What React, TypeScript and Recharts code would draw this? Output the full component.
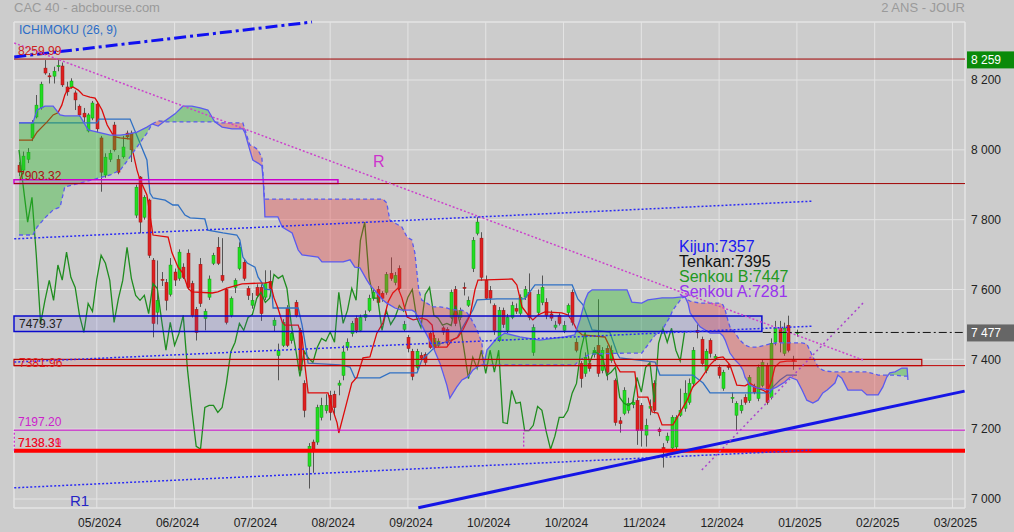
import React from 'react';
import {
  ComposedChart, Bar, Line, Area, XAxis, YAxis, CartesianGrid, ReferenceLine, ReferenceArea,
} from 'recharts';

// one grid line every 18 sessions, labelled like the original (note the doubled 10/2024)
const tickIdx = [18, 36, 54, 72, 90, 108, 126, 144, 162, 180, 198, 216];
const tickLabels = ['05/2024', '06/2024', '07/2024', '08/2024', '09/2024', '10/2024', '10/2024', '11/2024', '12/2024', '01/2025', '02/2025', '03/2025'];
const priceTicks = [7000, 7200, 7400, 7600, 7800, 8000, 8200];

// daily candles: open, high, low, close
const ohlc: number[][] = [
  [7956, 7965, 7925, 7936], [7942, 7995, 7930, 7982], [7973, 8005, 7962, 7993], [8034, 8085, 8025, 8077],
  [8094, 8157, 8090, 8128], [8120, 8195, 8115, 8188], [8234, 8257, 8215, 8220], [8212, 8220, 8190, 8209],
  [8211, 8238, 8190, 8225], [8238, 8257, 8225, 8241], [8240, 8250, 8180, 8186], [8180, 8195, 8155, 8166],
  [8180, 8205, 8175, 8197], [8163, 8170, 8114, 8143], [8125, 8130, 8095, 8100], [8105, 8120, 8080, 8094],
  [8054, 8105, 8050, 8100], [8091, 8140, 8085, 8134],
  // 05/2024
  [8131, 8140, 8050, 8060], [8034, 8040, 7880, 7936], [7928, 7990, 7920, 7979], [7973, 8000, 7965, 7990],
  [8071, 8080, 7995, 8000], [7973, 7985, 7930, 7936], [7980, 8040, 7975, 8008], [8048, 8055, 8030, 8037],
  [8048, 8055, 7965, 8000], [7813, 7900, 7805, 7893], [7922, 7925, 7761, 7793], [7807, 7870, 7800, 7864],
  [7856, 7860, 7690, 7698], [7684, 7690, 7463, 7503], [7535, 7683, 7500, 7569], [7629, 7650, 7610, 7626],
  [7620, 7630, 7540, 7569], [7586, 7690, 7580, 7670],
  // 06/2024
  [7650, 7660, 7610, 7627], [7632, 7715, 7625, 7707], [7664, 7675, 7630, 7635], [7704, 7715, 7600, 7606],
  [7617, 7625, 7520, 7526], [7543, 7550, 7454, 7477], [7672, 7690, 7550, 7560], [7517, 7545, 7483, 7537],
  [7578, 7640, 7570, 7630], [7675, 7705, 7670, 7698], [7721, 7750, 7670, 7675], [7640, 7747, 7620, 7626],
  [7600, 7605, 7500, 7506], [7526, 7580, 7520, 7574], [7606, 7632, 7590, 7626], [7660, 7735, 7655, 7721],
  [7678, 7685, 7625, 7632], [7603, 7610, 7570, 7583],
  // 07/2024
  [7555, 7590, 7545, 7569], [7606, 7615, 7575, 7583], [7606, 7615, 7510, 7531], [7578, 7655, 7570, 7617],
  [7623, 7655, 7580, 7603], [7497, 7520, 7480, 7512], [7411, 7445, 7340, 7426], [7440, 7515, 7435, 7506],
  [7546, 7555, 7435, 7440], [7454, 7480, 7445, 7474], [7563, 7570, 7520, 7526], [7483, 7490, 7360, 7369],
  [7331, 7340, 7234, 7254], [7094, 7160, 7030, 7151], [7163, 7170, 7075, 7143], [7163, 7270, 7155, 7262],
  [7234, 7290, 7225, 7268], [7253, 7300, 7245, 7268],
  // 08/2024
  [7297, 7310, 7225, 7248], [7300, 7310, 7240, 7262], [7326, 7340, 7297, 7332], [7354, 7440, 7340, 7421],
  [7434, 7460, 7425, 7449], [7474, 7510, 7465, 7503], [7517, 7525, 7475, 7483], [7483, 7528, 7478, 7520],
  [7520, 7540, 7510, 7528], [7540, 7585, 7535, 7575], [7575, 7600, 7568, 7592], [7600, 7610, 7555, 7563],
  [7589, 7595, 7565, 7575], [7592, 7650, 7585, 7643], [7646, 7692, 7625, 7632], [7620, 7650, 7612, 7640],
  [7660, 7669, 7598, 7603], [7486, 7510, 7480, 7500],
  // 09/2024
  [7463, 7470, 7420, 7431], [7423, 7430, 7340, 7351], [7377, 7430, 7370, 7423], [7411, 7420, 7395, 7403],
  [7414, 7420, 7383, 7391], [7474, 7480, 7430, 7434], [7434, 7470, 7428, 7460], [7440, 7460, 7435, 7452],
  [7490, 7495, 7470, 7478], [7486, 7492, 7440, 7449], [7520, 7600, 7515, 7592], [7600, 7610, 7495, 7503],
  [7520, 7548, 7512, 7540], [7606, 7620, 7583, 7603], [7555, 7580, 7550, 7569], [7660, 7750, 7650, 7741],
  [7761, 7807, 7755, 7793], [7747, 7764, 7625, 7635],
  // 10/2024
  [7626, 7640, 7570, 7575], [7597, 7610, 7560, 7575], [7554, 7560, 7470, 7483], [7454, 7550, 7450, 7540],
  [7540, 7548, 7490, 7500], [7483, 7530, 7475, 7520], [7520, 7565, 7515, 7554], [7545, 7560, 7530, 7538],
  [7532, 7586, 7525, 7578], [7578, 7610, 7570, 7600], [7592, 7646, 7512, 7520], [7420, 7500, 7410, 7491],
  [7534, 7600, 7525, 7586], [7563, 7640, 7555, 7606], [7563, 7575, 7515, 7526], [7530, 7540, 7510, 7518],
  [7492, 7510, 7485, 7498], [7526, 7532, 7497, 7503],
  // 10/2024 (second)
  [7483, 7510, 7475, 7497], [7534, 7560, 7525, 7554], [7592, 7600, 7497, 7506], [7449, 7460, 7420, 7426],
  [7388, 7395, 7319, 7345], [7360, 7420, 7350, 7406], [7388, 7395, 7365, 7374], [7414, 7435, 7405, 7426],
  [7440, 7572, 7350, 7360], [7368, 7435, 7360, 7426], [7431, 7440, 7340, 7363], [7397, 7440, 7390, 7426],
  [7339, 7345, 7210, 7219], [7224, 7235, 7190, 7216], [7245, 7320, 7240, 7311], [7254, 7290, 7245, 7274],
  [7270, 7290, 7260, 7277], [7282, 7290, 7155, 7196],
  // 11/2024
  [7268, 7275, 7150, 7196], [7183, 7230, 7150, 7211], [7260, 7285, 7240, 7265], [7331, 7340, 7245, 7254],
  [7200, 7205, 7180, 7193], [7147, 7160, 7090, 7142], [7168, 7190, 7160, 7180], [7146, 7240, 7140, 7234],
  [7149, 7240, 7140, 7234], [7240, 7316, 7235, 7254], [7260, 7340, 7250, 7303], [7277, 7345, 7270, 7331],
  [7331, 7435, 7320, 7426], [7483, 7500, 7460, 7477], [7457, 7465, 7380, 7388], [7368, 7430, 7360, 7423],
  [7454, 7460, 7405, 7417], [7403, 7415, 7395, 7408],
  // 12/2024
  [7377, 7385, 7345, 7354], [7317, 7370, 7310, 7363], [7383, 7390, 7370, 7377], [7288, 7305, 7275, 7291],
  [7240, 7280, 7196, 7274], [7253, 7285, 7245, 7268], [7291, 7300, 7270, 7277], [7282, 7355, 7275, 7348],
  [7323, 7330, 7300, 7306], [7288, 7385, 7280, 7377], [7325, 7400, 7320, 7391], [7383, 7390, 7270, 7277],
  [7291, 7460, 7285, 7446], [7449, 7510, 7440, 7489], [7489, 7510, 7420, 7449], [7417, 7505, 7410, 7489],
  [7497, 7525, 7420, 7426], [7400, 7410, 7370, 7395],
  // 01/2025
  [7477, 7485, 7465, 7477],
];

// Tenkan (red) and Kijun (blue) read at their corners: [session, value]
const tenkan: number[][] = [
  [0, 8028], [3, 8028], [4.2, 8051], [5.3, 8065], [6.5, 8080], [7.9, 8100], [9, 8106], [9.9, 8128], [10.6, 8157],
  [11.3, 8174], [12.5, 8180], [13.7, 8171], [14.8, 8157], [16.4, 8151], [17.6, 8148], [18.3, 8134], [19.2, 8114],
  [20.4, 8071], [21.5, 8048], [22.2, 8037], [23.4, 8034], [25.9, 8031], [26.4, 7991], [27.3, 7942], [28, 7914],
  [29.6, 7871], [31, 7756], [34.5, 7750], [35.4, 7705], [36.8, 7664], [37.9, 7647], [39.1, 7604], [40, 7593],
  [44.7, 7590], [46, 7593], [48.1, 7604], [51.6, 7616], [56.9, 7619], [58.1, 7621], [59, 7576], [59.9, 7547],
  [60.9, 7507], [61.5, 7498], [64.6, 7498], [65.5, 7464], [66.2, 7378], [66.9, 7304], [71.5, 7304], [72.4, 7263],
  [73.6, 7218], [74, 7189], [75.4, 7255], [77, 7332], [78.2, 7349], [79.6, 7404], [81.2, 7407], [82.8, 7475],
  [84.2, 7504], [85.4, 7564], [86.5, 7590], [87.7, 7604], [88.6, 7576], [89.8, 7521], [91.2, 7513], [93.2, 7518],
  [94.4, 7513], [95.6, 7498], [96.3, 7435], [99, 7435], [100.2, 7455], [101.6, 7464], [102.7, 7484], [104.4, 7527],
  [105.5, 7599], [106.2, 7627], [114.1, 7630], [115.2, 7613], [116.4, 7550], [117.8, 7527], [118.9, 7513],
  [120.1, 7527], [121.7, 7536], [125.6, 7533], [127, 7527], [128.2, 7507], [129.1, 7484], [130.3, 7470],
  [135.6, 7464], [136.7, 7435], [137.9, 7389], [139.1, 7364], [142.5, 7364], [143.2, 7292], [145.5, 7292],
  [146.5, 7249], [147.8, 7246], [148.8, 7212], [151.3, 7212], [152.9, 7246], [154.6, 7283], [155.9, 7321],
  [157.6, 7341], [158.7, 7361], [159.9, 7384], [161.5, 7404], [162.9, 7407], [164.5, 7384], [166.1, 7326],
  [168, 7324], [169.1, 7332], [170.8, 7318], [172.1, 7312], [173.1, 7304], [174.2, 7341], [174.9, 7378],
  [176.1, 7392], [177.7, 7395], [180, 7395],
];

const kijun: number[][] = [
  [0, 8077], [18, 8077], [18.5, 8088], [25.7, 8088], [28, 8019], [29.6, 7971], [30.3, 7876], [31, 7862],
  [33.8, 7856], [35.6, 7842], [36.8, 7842], [38.4, 7813], [39.6, 7805], [43, 7802], [43.7, 7770], [47.2, 7762],
  [50.4, 7756], [51.1, 7742], [51.8, 7693], [52.8, 7676], [54.6, 7664], [55.3, 7636], [56.2, 7619], [56.9, 7601],
  [58.5, 7599], [58.8, 7547], [64.6, 7547], [65.5, 7498], [66.2, 7447], [66.9, 7389], [74.3, 7384], [76.6, 7378],
  [77.7, 7347], [83.5, 7347], [85.8, 7361], [92.1, 7361], [93.2, 7398], [96.7, 7441], [101.3, 7461], [102.7, 7493],
  [105, 7541], [106, 7570], [110.6, 7573], [117, 7573], [119.4, 7613], [128, 7613], [129.3, 7573], [130.5, 7556],
  [132.6, 7484], [136.7, 7478], [138.4, 7418], [139, 7404], [147.2, 7392], [148.3, 7355], [155.9, 7355],
  [158.3, 7332], [159.9, 7304], [173.8, 7304], [174.5, 7321], [176.1, 7341], [177.7, 7355], [180, 7355],
];

// cloud, already shifted 26 sessions ahead
const cloudIdx = [
  0, 3.2, 4.2, 6, 7.9, 9.5, 10.6, 14.1, 16, 21.1, 23.4, 25.2, 27.3, 29.6, 30.8, 32.2, 33.8, 36.1, 37.9, 40, 41.9,
  43.7, 45.3, 47, 49.3, 51.8, 52.3, 53.4, 54.1, 55.3, 56.2, 56.5, 56.8, 56.9, 59.9, 60.9, 63.2, 64.6, 65.5, 69.2,
  70.1, 75, 76.6, 77.7, 78.9, 80.5, 81.2, 84.2, 85.1, 85.8, 87, 88.6, 89.8, 90.9, 91.6, 92.5, 93.2, 95.8, 97.4,
  99, 99.7, 101.3, 102.5, 103.7, 104.4, 105, 106, 107.1, 107.6, 108.3, 110.6, 112.4, 115.9, 120.5, 126.3, 128.6,
  129.8, 131, 131.7, 132.6, 140.7, 141.8, 144.1, 145.5, 147.2, 148.8, 150.6, 151.3, 153.4, 154.1, 154.8, 155.3,
  156.4, 157.6, 159.9, 162.2, 162.9, 163.4, 164, 164.5, 165.7, 166.8, 167.5, 168, 169.1, 170.8, 173.8, 175.4,
  177.2, 178.4, 180, 181.2, 182.3, 183.7, 184.9, 186, 187, 188.8, 189.5, 190.4, 191.8, 195, 196.2, 198.8, 199.9,
  200.8, 201.5, 202.7, 204.3, 205.5, 205.7,
];
const senkouA = [
  8077, 8077, 8114, 8125, 8125, 8100, 8097, 8097, 8057, 8042, 8042, 8045, 8051, 8065, 8074, 8068, 8083, 8103, 8125, 8125, 8120,
  8114, 8080, 8065, 8060, 8060, 8048, 8000, 7971, 7962, 7954, 7914, 7842, 7808, 7808, 7779, 7762, 7713, 7699, 7693,
  7679, 7679, 7685, 7664, 7662, 7627, 7613, 7570, 7561, 7556, 7547, 7541, 7541, 7541, 7536, 7518, 7498, 7435, 7389,
  7326, 7289, 7321, 7341, 7349, 7358, 7369, 7378, 7384, 7387, 7427, 7461, 7475, 7464, 7455, 7464, 7470,
  7513, 7570, 7590, 7599, 7599, 7564, 7561, 7570, 7573, 7576, 7576, 7576, 7579, 7579, 7561, 7533,
  7513, 7493, 7475, 7475, 7467, 7455, 7435, 7418, 7398, 7384, 7369, 7349, 7326, 7318, 7312, 7321,
  7335, 7349, 7341, 7312, 7283, 7275, 7283, 7304, 7312, 7332, 7355, 7346, 7312, 7312, 7298, 7298, 7321,
  7349, 7361, 7364, 7375, 7375, 7341,
];
const senkouB = [
  7756, 7756, 7779, 7805, 7828, 7836, 7894, 7905, 7911, 7928, 7942, 7971, 8008, 8048, 8074, 8083, 8080, 8080, 8080, 8080, 8080,
  8080, 8080, 8077, 8077, 8077, 8057, 8014, 8011, 8000, 7977, 7925, 7859, 7859, 7859, 7859, 7859, 7859, 7859, 7859,
  7859, 7859, 7859, 7859, 7859, 7859, 7859, 7859, 7848, 7799, 7790, 7779, 7750, 7742, 7705, 7599, 7570, 7550, 7550,
  7547, 7544, 7541, 7541, 7533, 7521, 7507, 7484, 7447, 7384, 7384, 7384, 7384, 7384, 7384, 7384, 7384,
  7398, 7407, 7412, 7415, 7418, 7418, 7418, 7441, 7470, 7484, 7521, 7541, 7576, 7579, 7570, 7567,
  7564, 7561, 7561, 7561, 7556, 7541, 7513, 7493, 7475, 7455, 7447, 7441, 7435, 7435, 7444, 7447,
  7447, 7447, 7447, 7447, 7444, 7407, 7378, 7369, 7366, 7364, 7364, 7364, 7364, 7364, 7364, 7355, 7355,
  7355, 7355, 7355, 7352, 7352, 7352,
];

// drawn levels and trend lines: [session, price]
const levelTop = 8259.99;
const level7903 = 7903.32;
const level7479 = 7479.37;
const level7382 = 7381.96;
const level7197 = 7197.2;
const level7138 = 7138.31;
const lastClose = 7477;
const ichimokuTop = [[-1.1, 8266], [67.8, 8366]];
const lineR = [[-1.1, 8306], [195.3, 7398]];
const channelHigh = [[-1.1, 7745], [183.7, 7853]];
const channelMid = [[-1.1, 7392], [183.7, 7495]];
const channelLow = [[-1.1, 7032], [183.7, 7140]];
const supportR1 = [[92.4, 6975], [218.8, 7309]];
const steepLine = [[158, 7083], [195.3, 7561]];

const X_DOMAIN = [-1.16, 218.9];
const Y_DOMAIN = [6974.2, 8366.1];

const candles = ohlc.map((r, i) => ({ i, o: r[0], h: r[1], l: r[2], c: r[3] }));
const chikou = ohlc.slice(26).map((r, j) => ({ i: j, v: r[3] }));
const tenkanData = tenkan.map(([i, v]) => ({ i, v }));
const kijunData = kijun.map(([i, v]) => ({ i, v }));
const cloud = cloudIdx.map((i, k) => ({ i, a: senkouA[k], b: senkouB[k] }));

const seg = (p: number[][]) => [{ x: p[0][0], y: p[0][1] }, { x: p[1][0], y: p[1][1] }];

const Candle = (props: any) => {
  const { x, y, width, height, payload } = props;
  if (!payload || height == null || isNaN(y)) return null;
  const { o, h, l, c } = payload;
  const k = h === l ? 0 : height / (h - l);
  const cx = Math.round(x + width / 2) + 0.5;
  const yo = y + (h - o) * k;
  const yc = y + (h - c) * k;
  const up = c >= o;
  const top = Math.min(yo, yc);
  const bh = Math.max(1, Math.abs(yc - yo));
  return (
    <g>
      <line x1={cx} x2={cx} y1={y} y2={y + height} stroke="#555" strokeWidth={1} />
      <rect x={cx - 1.5} y={top} width={3} height={bh} fill={up ? '#22dd22' : '#dd2020'}
        stroke={up ? '#12a012' : '#a01010'} strokeWidth={0.5} />
    </g>
  );
};

const badge = (text: string, bg: string) => (p: any) => {
  const vb = p.viewBox || {};
  const x = vb.x + vb.width + 2;
  return (
    <g>
      <rect x={x} y={vb.y - 8} width={47} height={17} fill={bg} />
      <text x={x + 4} y={vb.y + 5} fill="#fff" fontSize={12}>{text}</text>
    </g>
  );
};

const fmtPrice = (v: number) => {
  const s = String(v);
  return s.length > 3 ? s.slice(0, s.length - 3) + ' ' + s.slice(-3) : s;
};

const lbl = (value: string, fill: string) => ({ value, position: 'insideBottomLeft' as const, offset: 4, fill, fontSize: 12 });

export default function App() {
  return (
    <div style={{ position: 'absolute', left: 0, top: 0, width: 1014, height: 532, background: '#cccccc', fontFamily: '"Liberation Sans", Arial, sans-serif', overflow: 'hidden' }}>
      <ComposedChart width={1014} height={532} data={candles} margin={{ top: 22, right: 0, bottom: 0, left: 14 }}>
        <CartesianGrid stroke="#e4e4e4" strokeWidth={1} />
        <XAxis dataKey="i" type="number" domain={X_DOMAIN} allowDataOverflow ticks={tickIdx} interval={0}
          tickFormatter={(v: number) => tickLabels[tickIdx.indexOf(v)] || ''}
          axisLine={false} tickLine={false} tickSize={6} tickMargin={4} height={24}
          tick={{ fill: '#222', fontSize: 12, dx: 3 }} />
        <YAxis orientation="right" type="number" domain={Y_DOMAIN} allowDataOverflow ticks={priceTicks}
          tickFormatter={fmtPrice} axisLine={false} tickLine={false} tickSize={4} tickMargin={2} width={49}
          tick={{ fill: '#222', fontSize: 12 }} />
        <ReferenceArea x1={X_DOMAIN[0]} x2={X_DOMAIN[1]} y1={Y_DOMAIN[0]} y2={Y_DOMAIN[1]} fill="none"
          stroke="#e4e4e4" ifOverflow="visible" />

        <Bar dataKey={(d: any) => [d.l, d.h]} barSize={3} shape={<Candle />} isAnimationActive={false} zIndex={300} />
        <Line data={chikou} dataKey="v" type="linear" dot={false} stroke="#1f8c1f" strokeWidth={1.3} isAnimationActive={false} zIndex={310} />
        <Line data={kijunData} dataKey="v" type="linear" dot={false} stroke="#2f70c4" strokeWidth={1.3} isAnimationActive={false} zIndex={310} />
        <Line data={tenkanData} dataKey="v" type="linear" dot={false} stroke="#dd0a0a" strokeWidth={1.3} isAnimationActive={false} zIndex={310} />

        <Area data={cloud} dataKey={(d: any) => (d.a >= d.b ? [d.b, d.a] : [d.b, d.b])} type="linear" stroke="none"
          fill="rgba(40,190,40,0.38)" fillOpacity={1} isAnimationActive={false} zIndex={320} />
        <Area data={cloud} dataKey={(d: any) => (d.b > d.a ? [d.a, d.b] : [d.a, d.a])} type="linear" stroke="none"
          fill="rgba(235,45,45,0.33)" fillOpacity={1} isAnimationActive={false} zIndex={320} />
        <Line data={cloud} dataKey="a" type="linear" dot={false} stroke="#5a5af0" strokeWidth={1.3} isAnimationActive={false} zIndex={330} />
        <Line data={cloud} dataKey="b" type="linear" dot={false} stroke="#5a5af0" strokeWidth={1.3} strokeDasharray="4 3" isAnimationActive={false} zIndex={330} />

        <ReferenceArea x1={X_DOMAIN[0]} x2={73.8} y1={level7903} y2={7914} fill="rgba(230,110,230,0.35)" stroke="#cc00cc" strokeWidth={1.5} ifOverflow="visible" zIndex={340} />
        <ReferenceArea x1={X_DOMAIN[0]} x2={171.9} y1={level7479} y2={7524} fill="rgba(80,80,230,0.28)" stroke="#0a0acc" strokeWidth={1.5} ifOverflow="visible" zIndex={340}
          label={{ value: '7479.37', position: 'insideLeft', offset: 5, fill: '#222', fontSize: 12 }} />
        <ReferenceArea x1={X_DOMAIN[0]} x2={208.9} y1={level7382} y2={7400} fill="rgba(225,80,80,0.28)" stroke="#bb0000" strokeWidth={1.2} ifOverflow="visible" zIndex={340}
          label={{ value: '7381.96', position: 'insideLeft', offset: 5, fill: '#dd2222', fontSize: 12 }} />

        <ReferenceLine y={levelTop} stroke="#a00000" strokeWidth={1} zIndex={350} label={lbl('8259.99', '#cc2222')} />
        <ReferenceLine y={level7903} stroke="#a00000" strokeWidth={1} zIndex={350} label={lbl('7903.32', '#aa1111')} />
        <ReferenceLine y={level7382} stroke="#c00000" strokeWidth={1} zIndex={350} />
        <ReferenceLine y={level7197} stroke="#cc00cc" strokeWidth={1} zIndex={350} label={lbl('7197.20', '#cc22cc')} />
        <ReferenceLine y={level7138} stroke="none" zIndex={350} label={lbl('7138.39', '#ee33aa')} />
        <ReferenceLine y={level7138} stroke="#ff0000" strokeWidth={4} zIndex={350} label={lbl('7138.31', '#ee1111')} />

        <ReferenceLine segment={seg(ichimokuTop)} stroke="#1010f0" strokeWidth={3} strokeDasharray="12 4 3 4" ifOverflow="visible" zIndex={350} />
        <ReferenceLine segment={seg(lineR)} stroke="#cc44cc" strokeWidth={1.5} strokeDasharray="2 2" ifOverflow="visible" zIndex={350} />
        <ReferenceLine segment={seg(channelHigh)} stroke="#2a2af5" strokeWidth={1.5} strokeDasharray="2 2" ifOverflow="visible" zIndex={350} />
        <ReferenceLine segment={seg(channelMid)} stroke="#2a2af5" strokeWidth={1.5} strokeDasharray="2 2" ifOverflow="visible" zIndex={350} />
        <ReferenceLine segment={seg(channelLow)} stroke="#2a2af5" strokeWidth={1.5} strokeDasharray="2 2" ifOverflow="visible" zIndex={350} />
        <ReferenceLine segment={seg(supportR1)} stroke="#1515e6" strokeWidth={3} ifOverflow="visible" zIndex={350} />
        <ReferenceLine segment={seg(steepLine)} stroke="#aa44cc" strokeWidth={1.5} strokeDasharray="2 3" ifOverflow="visible" zIndex={350} />
        <ReferenceLine segment={[{ x: -1.1, y: level7138 }, { x: -1.1, y: level7197 }]} stroke="#cc00cc" strokeDasharray="2 2" ifOverflow="visible" zIndex={350} />
        <ReferenceLine segment={[{ x: 116.8, y: 7150 }, { x: 116.8, y: level7197 }]} stroke="#cc00cc" strokeDasharray="2 2" ifOverflow="visible" zIndex={350} />
        <ReferenceLine segment={[{ x: 172.1, y: lastClose }, { x: 218.9, y: lastClose }]} stroke="#111" strokeWidth={1} strokeDasharray="8 3 2 3" ifOverflow="visible" zIndex={350} />

        <ReferenceLine y={8259} stroke="none" zIndex={360} label={badge('8 259', '#0a8a0a')} />
        <ReferenceLine y={lastClose} stroke="none" zIndex={360} label={badge('7 477', '#666666')} />
      </ComposedChart>

      <div style={{ position: 'absolute', left: 14, top: 1, fontSize: 13, lineHeight: '14px', color: '#9a9a9a' }}>CAC 40 - abcbourse.com</div>
      <div style={{ position: 'absolute', right: 49, top: 1, fontSize: 13, lineHeight: '14px', color: '#9a9a9a' }}>2 ANS - JOUR</div>
      <div style={{ position: 'absolute', left: 19, top: 23, fontSize: 12, lineHeight: '14px', color: '#2a6dc8' }}>ICHIMOKU (26, 9)</div>
      <div style={{ position: 'absolute', left: 373, top: 153, fontSize: 16, lineHeight: '18px', color: '#cc33cc' }}>R</div>
      <div style={{ position: 'absolute', left: 70, top: 493, fontSize: 15, lineHeight: '16px', color: '#2525c5' }}>R1</div>
      <div style={{ position: 'absolute', left: 679, top: 239, fontSize: 16, lineHeight: '15px' }}>
        <div style={{ color: '#1a1af0' }}>Kijun:7357</div>
        <div style={{ color: '#111' }}>Tenkan:7395</div>
        <div style={{ color: '#229922' }}>Senkou B:7447</div>
        <div style={{ color: '#9933ee' }}>Senkou A:7281</div>
      </div>
    </div>
  );
}
